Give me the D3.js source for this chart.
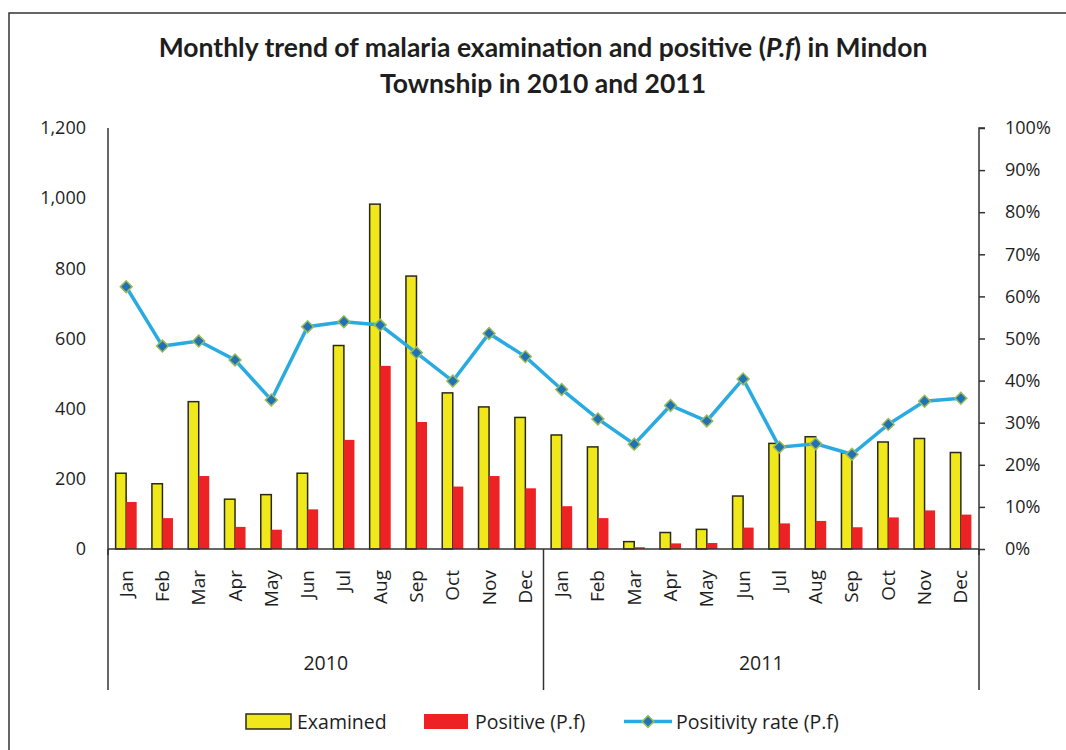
<!DOCTYPE html>
<html>
<head>
<meta charset="utf-8">
<script src="https://cdn.jsdelivr.net/npm/d3@7"></script>
<style>
  body { margin: 0; background: #fff; }
  svg { display: block; }
</style>
</head>
<body>
<svg id="chart" width="1066" height="750"></svg>
<script>
// values
const years = ['2010', '2011'];
const months = ['Jan', 'Feb', 'Mar', 'Apr', 'May', 'Jun', 'Jul', 'Aug', 'Sep', 'Oct', 'Nov', 'Dec'];
const examined = [216, 186, 420, 142, 155, 216, 580, 983, 778, 445, 405, 375,
  325, 291, 21, 47, 56, 151, 301, 320, 274, 305, 315, 275];
const positive = [134, 88, 208, 63, 55, 113, 311, 522, 362, 178, 208, 173,
  122, 88, 5, 16, 17, 61, 73, 80, 62, 90, 110, 98];
const rate = [62.3, 48.2, 49.4, 44.9, 35.4, 52.8, 54.0, 53.2, 46.6, 39.9, 51.2, 45.7,
  37.9, 30.9, 24.9, 34.1, 30.4, 40.4, 24.2, 25.0, 22.5, 29.6, 35.1, 35.8];
const leftTicks = [0, 200, 400, 600, 800, 1000, 1200];
const rightTicks = [0, 0.1, 0.2, 0.3, 0.4, 0.5, 0.6, 0.7, 0.8, 0.9, 1];
const legendItems = ['Examined', 'Positive (P.f)', 'Positivity rate (P.f)'];

const svg = d3.select('#chart');
const plotLeft = 108;
const plotRight = 979;
const plotTop = 128;
const base = 549;
const catBottom = 690;
const ink = '#1e1e1e';

const cats = d3.range(years.length * months.length);
const x = d3.scaleBand().domain(cats).range([plotLeft, plotRight]);
const y = d3.scaleLinear().domain([0, 1200]).range([base, plotTop]);
const yR = d3.scaleLinear().domain([0, 1]).range([base, plotTop]);
const bw = x.bandwidth() * 0.29;
const cx = (i) => x(i) + x.bandwidth() / 2;

// outer frame
svg.append('rect')
  .attr('x', 9).attr('y', 13)
  .attr('width', 1200).attr('height', 900)
  .attr('fill', 'none').attr('stroke', '#333').attr('stroke-width', 1.5);

// title
const title = svg.append('text')
  .attr('text-anchor', 'middle')
  .attr('font-family', 'Lato, "Open Sans", sans-serif')
  .attr('font-weight', 'bold')
  .attr('font-size', 26.5)
  .attr('fill', ink);
const l1 = title.append('tspan').attr('x', 543).attr('y', 57);
l1.append('tspan').text('Monthly trend of malaria examination and positive (');
l1.append('tspan').attr('font-style', 'italic').text('P.f');
l1.append('tspan').text(') in Mindon');
title.append('tspan').attr('x', 543).attr('y', 93).text('Township in 2010 and 2011');

// left axis
svg.append('g')
  .attr('transform', `translate(${plotLeft},0)`)
  .call(d3.axisLeft(y).tickValues(leftTicks).tickSize(0).tickPadding(22)
    .tickFormat(d3.format(',')))
  .call((g) => g.select('.domain').attr('stroke', '#333').attr('stroke-width', 1.5)
    .attr('d', `M0,${plotTop}V${base + 6}`))
  .call((g) => g.selectAll('text')
    .attr('font-family', '"Open Sans", sans-serif').attr('font-size', 18).attr('fill', ink));

// right axis
svg.append('g')
  .attr('transform', `translate(${plotRight},0)`)
  .call(d3.axisRight(yR).tickValues(rightTicks).tickSize(6).tickPadding(20)
    .tickFormat(d3.format('.0%')))
  .call((g) => g.select('.domain').attr('stroke', '#333').attr('stroke-width', 1.5)
    .attr('d', `M6,${plotTop}H0V${base + 6}`))
  .call((g) => g.selectAll('.tick line').attr('stroke', '#333').attr('stroke-width', 1.5))
  .call((g) => g.selectAll('text')
    .attr('font-family', '"Open Sans", sans-serif').attr('font-size', 18).attr('fill', ink));

// bars
svg.append('g').selectAll('rect').data(examined).enter()
  .append('rect')
  .attr('x', (d, i) => cx(i) - bw)
  .attr('y', (d) => y(d))
  .attr('width', bw)
  .attr('height', (d) => base - y(d))
  .attr('fill', '#f0e81a')
  .attr('stroke', '#2a2a1a')
  .attr('stroke-width', 1.5);

svg.append('g').selectAll('rect').data(positive).enter()
  .append('rect')
  .attr('x', (d, i) => cx(i))
  .attr('y', (d) => y(d))
  .attr('width', bw)
  .attr('height', (d) => base - y(d))
  .attr('fill', '#ed2224');

// category axis
svg.append('line')
  .attr('x1', plotLeft).attr('x2', plotRight).attr('y1', base).attr('y2', base)
  .attr('stroke', '#333').attr('stroke-width', 1.5);
const seps = [0, months.length, cats.length];
svg.append('g').selectAll('line').data(seps).enter()
  .append('line')
  .attr('x1', (d) => (d === cats.length ? plotRight : x(d)))
  .attr('x2', (d) => (d === cats.length ? plotRight : x(d)))
  .attr('y1', base).attr('y2', catBottom)
  .attr('stroke', '#333').attr('stroke-width', 1.5);

svg.append('g').selectAll('text').data(cats).enter()
  .append('text')
  .attr('transform', (d) => `translate(${cx(d) + 6.5},570) rotate(-90)`)
  .attr('text-anchor', 'end')
  .attr('font-family', '"Open Sans", sans-serif')
  .attr('font-size', 19)
  .attr('fill', ink)
  .text((d) => months[d % months.length]);

svg.append('g').selectAll('text').data(years).enter()
  .append('text')
  .attr('x', (d, i) => (x(i * months.length)
    + (i === years.length - 1 ? plotRight : x((i + 1) * months.length))) / 2)
  .attr('y', 670)
  .attr('text-anchor', 'middle')
  .attr('font-family', '"Open Sans", sans-serif')
  .attr('font-size', 19.5)
  .attr('fill', ink)
  .text((d) => d);

// positivity rate line
const line = d3.line().x((d, i) => cx(i)).y((d) => yR(d / 100));
svg.append('path')
  .datum(rate)
  .attr('d', line)
  .attr('fill', 'none')
  .attr('stroke', '#29abe2')
  .attr('stroke-width', 3.5);

const diamond = d3.symbol().type(d3.symbolSquare).size(70);
svg.append('g').selectAll('path').data(rate).enter()
  .append('path')
  .attr('d', diamond)
  .attr('transform', (d, i) => `translate(${cx(i)},${yR(d / 100)}) rotate(45)`)
  .attr('fill', '#1f72b8')
  .attr('stroke', '#9bbb59')
  .attr('stroke-width', 1.5);

// legend
const legend = svg.append('g').attr('font-family', '"Open Sans", sans-serif')
  .attr('font-size', 19.5).attr('fill', ink);
const lx = [246, 424, 624];
legend.append('rect').attr('x', lx[0]).attr('y', 714).attr('width', 45).attr('height', 15)
  .attr('fill', '#f0e81a').attr('stroke', '#2a2a1a').attr('stroke-width', 1.5);
legend.append('rect').attr('x', lx[1]).attr('y', 714).attr('width', 44).attr('height', 15)
  .attr('fill', '#ed2224');
legend.append('line').attr('x1', lx[2]).attr('x2', lx[2] + 48).attr('y1', 721.5).attr('y2', 721.5)
  .attr('stroke', '#29abe2').attr('stroke-width', 3.5);
legend.append('path').attr('d', diamond)
  .attr('transform', `translate(${lx[2] + 24},721.5) rotate(45)`)
  .attr('fill', '#1f72b8').attr('stroke', '#9bbb59').attr('stroke-width', 1.5);
legend.selectAll('text.lg').data(legendItems).enter()
  .append('text')
  .attr('class', 'lg')
  .attr('x', (d, i) => lx[i] + (i === 2 ? 52 : 51))
  .attr('y', 729)
  .text((d) => d);
</script>
</body>
</html>
